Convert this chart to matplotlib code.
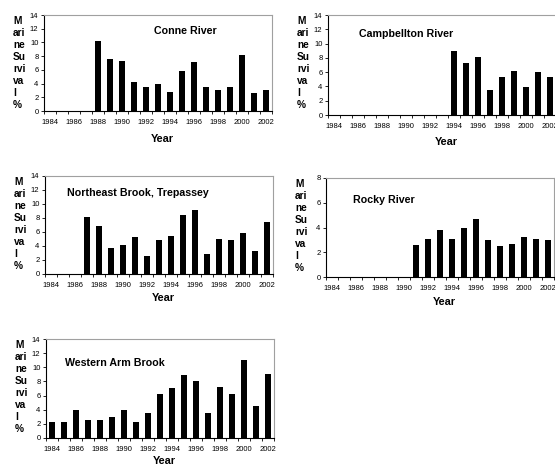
import numpy as np
import matplotlib
matplotlib.use('Agg')
import matplotlib.pyplot as plt

W, H = 555, 467

years = list(range(1984, 2003))
conne = [None, None, None, None, 10.2, 7.6, 7.3, 4.3, 3.5, 4.0, 2.8, 5.8, 7.2, 3.5, 3.0, 3.5, 8.2, 2.6, 3.0]
campbellton = [None] * 10 + [9.0, 7.3, 8.1, 3.5, 5.3, 6.1, 3.9, 6.0, 5.3]
northeast = [None, None, None, 8.2, 6.9, 3.7, 4.2, 5.3, 2.6, 4.8, 5.4, 8.5, 9.2, 2.9, 5.0, 4.9, 5.9, 3.3, 7.4]
rocky = [None] * 7 + [2.6, 3.1, 3.8, 3.1, 4.0, 4.7, 3.0, 2.5, 2.7, 3.2, 3.1, 3.0]
western = [2.3, 2.3, 4.0, 2.5, 2.5, 3.0, 4.0, 2.3, 3.6, 6.2, 7.1, 8.9, 8.1, 3.6, 7.2, 6.2, 11.0, 4.5, 9.1]

# (name, values, ymax, left, top, bottom, title x, title y, title ha, year-label y)
panels = [
    ('Conne River', conne, 14, 44, 15, 111, 185, 31, 'center', 139),
    ('Campbellton River', campbellton, 14, 328, 15, 115, 406, 34, 'center', 142),
    ('Northeast Brook, Trepassey', northeast, 14, 45, 176, 274, 67, 193, 'left', 298),
    ('Rocky River', rocky, 8, 326, 178, 277, 353, 200, 'left', 302),
    ('Western Arm Brook', western, 14, 46, 339, 438, 65, 461, 'left', 461),
]

fig = plt.figure(figsize=(W / 100, H / 100), dpi=100)
fig.patch.set_facecolor('white')
plt.rcParams['font.family'] = ['Liberation Sans', 'DejaVu Sans']

for name, vals, ymax, left, top, bottom, tx, ty, tha, ylab_y in panels:
    if name == 'Western Arm Brook':
        ty = 363
    width = 228
    ax = fig.add_axes([left / W, 1 - bottom / H, width / W, (bottom - top) / H])
    x = np.arange(len(years))
    v = np.array([np.nan if a is None else a for a in vals])
    ax.bar(x, v, width=0.5, color='black')
    ax.set_xlim(-0.5, len(years) - 0.5)
    ax.set_ylim(0, ymax)
    ax.set_yticks(np.arange(0, ymax + 1, 2))
    ax.tick_params(axis='y', labelsize=5.5, length=2, width=0.6, pad=2)
    ax.set_xticks(x[::2])
    ax.set_xticklabels([str(y) for y in years[::2]], fontsize=5.5)
    ax.set_xticks(np.arange(-0.5, len(years), 1), minor=True)
    ax.tick_params(axis='x', which='major', length=0, pad=6)
    ax.tick_params(axis='x', which='minor', length=2, width=0.6)
    for s in ['top', 'right']:
        ax.spines[s].set_color('#a0a0a0')
        ax.spines[s].set_linewidth(0.8)
    for s in ['left', 'bottom']:
        ax.spines[s].set_color('black')
        ax.spines[s].set_linewidth(0.8)
    fig.text(tx / W, 1 - ty / H, name, ha=tha, va='center', fontsize=7.7, fontweight='bold')
    fig.text((left + 118) / W, 1 - ylab_y / H, 'Year', ha='center', va='center', fontsize=7.8,
             fontweight='bold')
    fig.text((left - 31) / W, 1 - (top + 1) / H, 'M\nari\nne\nSu\nrvi\nva\nl\n%', ha='left', va='top',
             fontsize=7.3, fontweight='bold', linespacing=1.25)

fig.savefig('out.png', dpi=100, facecolor='white')
